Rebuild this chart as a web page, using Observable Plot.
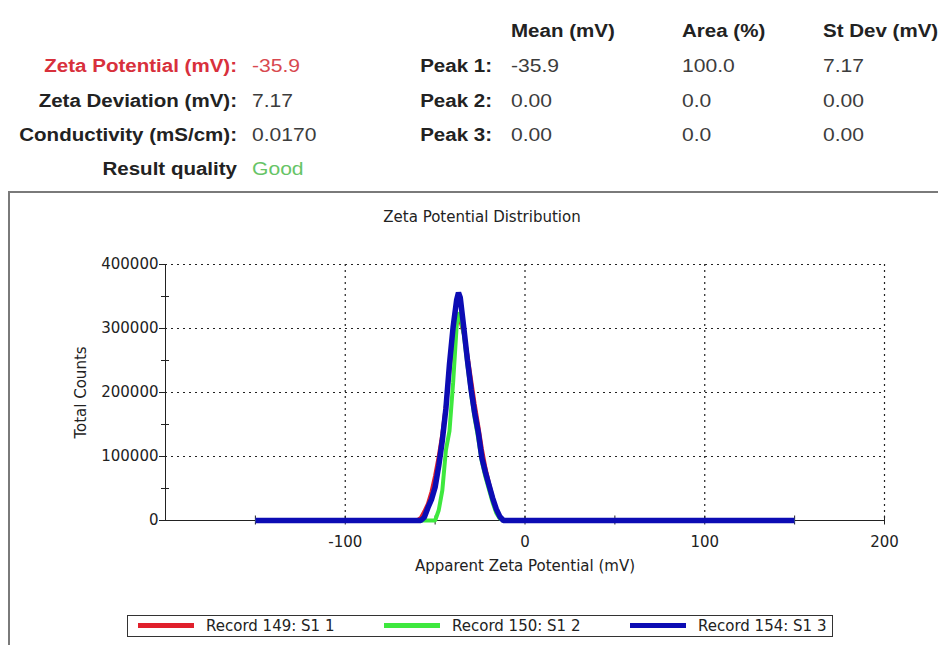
<!DOCTYPE html>
<html>
<head>
<meta charset="utf-8">
<script src="https://cdn.jsdelivr.net/npm/d3@7"></script>
<script src="https://cdn.jsdelivr.net/npm/@observablehq/plot@0.6"></script>
<style>
body{margin:0;width:938px;height:645px;overflow:hidden;background:#fff;font-family:"DejaVu Sans",sans-serif;position:relative}
.t{position:absolute;white-space:nowrap;line-height:20px;font-family:"Liberation Sans",Arial,sans-serif}
.lab{font-weight:bold;font-size:18px;color:#222}
.val{font-size:18.5px;color:#3c3c3c}
#box{position:absolute;left:8px;top:191px;width:940px;height:470px;border:2px solid #7a7a7a;box-sizing:border-box}
#title{position:absolute;left:282px;top:207px;width:400px;text-align:center;font-size:15px;color:#222;line-height:20px}
#chart{position:absolute;left:0;top:240px}
#legend{position:absolute;left:127px;top:615px;width:706px;height:22px;border:1px solid #333;box-sizing:border-box}
.sw{position:absolute;top:7px;height:5px;width:56px}
.lt{position:absolute;top:0;font-size:15px;line-height:20px;color:#222;white-space:nowrap}
</style>
</head>
<body>
<div id="box"></div>
<div id="title">Zeta Potential Distribution</div>
<div id="chart"></div>
<div id="legend"></div>
<script>
// ---- summary table ----
const summaryLabels = ["Zeta Potential (mV):", "Zeta Deviation (mV):", "Conductivity (mS/cm):", "Result quality"];
const summaryValues = ["-35.9", "7.17", "0.0170", "Good"];
const peakColumns = ["Mean (mV)", "Area (%)", "St Dev (mV)"];
const peakNames = ["Peak 1:", "Peak 2:", "Peak 3:"];
const peakMeans = ["-35.9", "0.00", "0.00"];
const peakAreas = ["100.0", "0.0", "0.0"];
const peakStdevs = ["7.17", "0.00", "0.00"];

// ---- distribution data ----
const potential = [-150, -60, -58, -56, -54, -52, -50, -48, -46, -44, -42, -40, -38, -37, -36, -34, -32, -30, -28, -26, -24, -22, -20, -18, -16, -14, -12, 150];
const record149 = [0, 0, 4000, 14000, 26000, 45000, 70000, 100000, 135000, 180000, 235000, 280000, 310000, 316000, 312000, 292000, 258000, 220000, 182000, 148000, 112000, 82000, 58000, 36000, 18000, 6000, 0, 0];
const record150 = [0, 0, 0, 0, 0, 0, 0, 16000, 47000, 110000, 140000, 215000, 305000, 325000, 320000, 290000, 242000, 198000, 160000, 128000, 92000, 68000, 48000, 28000, 12000, 3000, 0, 0];
const record154 = [0, 0, 0, 5000, 20000, 33000, 52000, 85000, 125000, 175000, 245000, 302000, 345000, 356000, 348000, 300000, 250000, 205000, 168000, 138000, 98000, 75000, 55000, 35000, 18000, 6000, 0, 0];
const seriesNames = ["Record 149: S1 1", "Record 150: S1 2", "Record 154: S1 3"];
const seriesColors = ["#e0202c", "#3ee83e", "#0c0cb4"];
const seriesWidths = [4, 4, 5.5];

const xMajorTicks = [-100, 0, 100, 200];
const xAllTicks = [-150, -100, -50, 0, 50, 100, 150, 200];
const yMajorTicks = [0, 100000, 200000, 300000, 400000];
const yMinorTicks = [50000, 150000, 250000, 350000];

// ---- header ----
function put(text, x, yc, cls, align, color) {
  const d = document.createElement("div");
  d.className = "t " + cls;
  d.textContent = text;
  d.style.top = (yc - 10) + "px";
  if (align === "right") { d.style.right = (938 - x) + "px"; d.style.transformOrigin = "right center"; }
  else { d.style.left = x + "px"; d.style.transformOrigin = "left center"; }
  d.style.transform = "scaleX(1.14)";
  if (color) d.style.color = color;
  document.body.appendChild(d);
}
const rowY = [66, 101, 135, 169];
summaryLabels.forEach((s, i) => put(s, 237, rowY[i], "lab", "right", i === 0 ? "#d8303c" : null));
summaryValues.forEach((s, i) => put(s, 252, rowY[i], "val", "left", i === 0 ? "#d84850" : i === 3 ? "#66c466" : null));
const colX = [511, 682, 823];
peakColumns.forEach((s, i) => put(s, colX[i], 31, "lab", "left"));
peakNames.forEach((s, i) => {
  put(s, 492, rowY[i], "lab", "right");
  put(peakMeans[i], colX[0], rowY[i], "val", "left");
  put(peakAreas[i], colX[1], rowY[i], "val", "left");
  put(peakStdevs[i], colX[2], rowY[i], "val", "left");
});

// ---- chart ----
const rows = [];
[record149, record150, record154].forEach((vals, s) => {
  vals.forEach((v, i) => rows.push({series: seriesNames[s], x: potential[i], y: v}));
});

const grid = {stroke: "#222", strokeOpacity: 1, strokeDasharray: "2,4", strokeWidth: 1.2};
const chart = Plot.plot({
  width: 938, height: 345,
  marginLeft: 165, marginRight: 54, marginTop: 24, marginBottom: 65,
  style: {fontFamily: "DejaVu Sans", fontSize: "15px", color: "#222", background: "transparent", overflow: "visible"},
  x: {domain: [-200, 200]},
  y: {domain: [0, 400000]},
  marks: [
    Plot.gridY(yMajorTicks.filter(d => d > 0), grid),
    Plot.gridX(xMajorTicks, grid),
    Plot.ruleY([0], {stroke: "#222"}),
    Plot.ruleX([-200], {stroke: "#222"}),
    Plot.axisY(yMinorTicks, {tickSize: 8, dx: 4, fill: "none"}),
    Plot.axisY(yMajorTicks, {tickSize: 6, tickPadding: 1, tickFormat: d => String(d),
      label: "Total Counts", labelAnchor: "center", labelArrow: "none", labelOffset: 90}),
    Plot.axisX(xAllTicks, {tickSize: 9, dy: -4.5, fill: "none"}),
    Plot.axisX(xMajorTicks, {tickSize: 0, tickPadding: 16, tickFormat: d => String(d),
      label: "Apparent Zeta Potential (mV)", labelAnchor: "center", labelArrow: "none", labelOffset: 50}),
    ...seriesNames.map((name, s) =>
      Plot.line(rows.filter(r => r.series === name), {x: "x", y: "y", stroke: seriesColors[s], strokeWidth: seriesWidths[s], strokeLinejoin: "miter", strokeLinecap: "butt"}))
  ]
});
document.getElementById("chart").appendChild(chart);

// ---- legend ----
const lg = document.getElementById("legend");
seriesNames.forEach((name, i) => {
  const sw = document.createElement("div");
  sw.className = "sw";
  sw.style.left = (10 + i * 246) + "px";
  sw.style.background = seriesColors[i];
  lg.appendChild(sw);
  const t = document.createElement("div");
  t.className = "lt";
  t.style.left = (78 + i * 246) + "px";
  t.textContent = name;
  lg.appendChild(t);
});
</script>
</body>
</html>
